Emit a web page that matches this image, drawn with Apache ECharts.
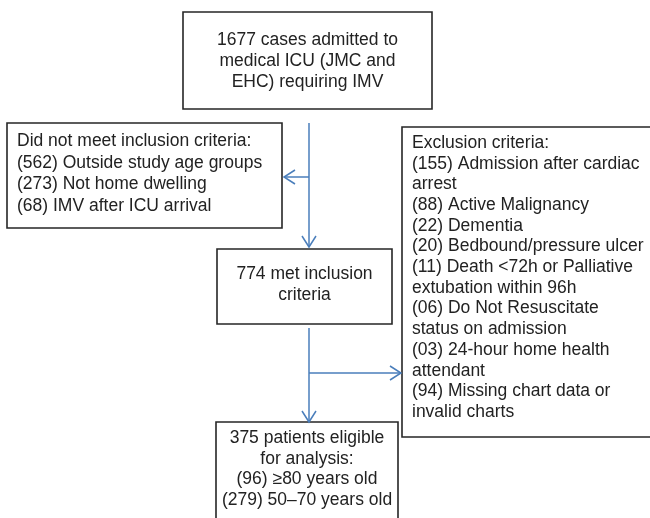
<!DOCTYPE html>
<html><head><meta charset="utf-8">
<script src="https://cdn.jsdelivr.net/npm/echarts@6/dist/echarts.min.js"></script>
<style>html,body{margin:0;padding:0;background:#fff}#c{width:650px;height:518px}</style>
</head><body><div id="c"></div><script>
// ---- data ----
const admittedLines = ["1677 cases admitted to", "medical ICU (JMC and", "EHC) requiring IMV"];
const inclusionTitle = "Did not meet inclusion criteria:";
const inclusionFailCounts = ["562", "273", "68"];
const inclusionFailReasons = ["Outside study age groups", "Not home dwelling", "IMV after ICU arrival"];
const metInclusionLines = ["774 met inclusion", "criteria"];
const exclusionTitle = "Exclusion criteria:";
const exclusionCounts = ["155", "88", "22", "20", "11", "06", "03", "94"];
const exclusionReasons = [
  ["Admission after cardiac", "arrest"],
  ["Active Malignancy"],
  ["Dementia"],
  ["Bedbound/pressure ulcer"],
  ["Death <72h or Palliative", "extubation within 96h"],
  ["Do Not Resuscitate", "status on admission"],
  ["24-hour home health", "attendant"],
  ["Missing chart data or", "invalid charts"]
];
const eligibleLines = ["375 patients eligible", "for analysis:"];
const ageGroupCounts = ["96", "279"];
const ageGroupLabels = ["\u226580 years old", "50\u201370 years old"];

// ---- layout / style ----
const FONT = '17.5px "Liberation Sans", Arial, sans-serif';
const TXT = '#222222';
const BOX = '#262626';
const ARROW = '#4a7ebb';
const LAYOUT = {
  box1: {x: 183, y: 12, w: 249, h: 97, lines: [40, 61, 82]},
  boxL: {x: 7, y: 123, w: 275, h: 105, tx: 17, y0: 141, dy: 21.7},
  boxM: {x: 217, y: 249, w: 175, h: 75, lines: [274, 295]},
  boxR: {x: 402, y: 127, w: 260, h: 310, tx: 412, y0: 143, dy: 20.7},
  boxB: {x: 216, y: 422, w: 182, h: 120, y0: 438, dy: 20.8},
  cx: 309, arrowL_y: 177, arrowR_y: 373
};

const g = [];
function rect(b) {
  g.push({type: 'rect', shape: {x: b.x, y: b.y, width: b.w, height: b.h},
    style: {fill: '#fff', stroke: BOX, lineWidth: 1.6}});
}
function txt(s, x, y, align) {
  g.push({type: 'text', x: x, y: y, style: {text: s, font: FONT, fill: TXT,
    textAlign: align || 'left', textVerticalAlign: 'middle'}});
}
function line(x1, y1, x2, y2) {
  g.push({type: 'line', shape: {x1, y1, x2, y2}, style: {stroke: ARROW, lineWidth: 1.5}});
}
function head(x, y, dir) {
  const L = 11, W = 7;
  let pts;
  if (dir === 'down') pts = [[x - W, y - L], [x, y], [x + W, y - L]];
  if (dir === 'left') pts = [[x + L, y - W], [x, y], [x + L, y + W]];
  if (dir === 'right') pts = [[x - L, y - W], [x, y], [x - L, y + W]];
  g.push({type: 'polyline', shape: {points: pts}, style: {stroke: ARROW, lineWidth: 1.5, fill: null}});
}

// boxes
const b1 = LAYOUT.box1, bl = LAYOUT.boxL, bm = LAYOUT.boxM, br = LAYOUT.boxR, bb = LAYOUT.boxB;
[b1, bl, bm, br, bb].forEach(rect);

// connectors
const cx = LAYOUT.cx;
line(cx, b1.y + b1.h + 14, cx, bm.y - 2); head(cx, bm.y - 2, 'down');
line(cx, LAYOUT.arrowL_y, bl.x + bl.w + 2, LAYOUT.arrowL_y); head(bl.x + bl.w + 2, LAYOUT.arrowL_y, 'left');
line(cx, bm.y + bm.h + 4, cx, bb.y); head(cx, bb.y, 'down');
line(cx, LAYOUT.arrowR_y, br.x - 1, LAYOUT.arrowR_y); head(br.x - 1, LAYOUT.arrowR_y, 'right');

// texts
admittedLines.forEach((s, i) => txt(s, b1.x + b1.w / 2, b1.lines[i], 'center'));
const leftLines = [inclusionTitle].concat(inclusionFailCounts.map((c, i) => '(' + c + ') ' + inclusionFailReasons[i]));
leftLines.forEach((s, i) => txt(s, bl.tx, bl.y0 + i * bl.dy));
metInclusionLines.forEach((s, i) => txt(s, bm.x + bm.w / 2, bm.lines[i], 'center'));
const rightLines = [exclusionTitle];
exclusionCounts.forEach((c, i) => exclusionReasons[i].forEach((r, j) => rightLines.push(j === 0 ? '(' + c + ') ' + r : r)));
rightLines.forEach((s, i) => txt(s, br.tx, br.y0 + i * br.dy));
const bottomLines = eligibleLines.concat(ageGroupCounts.map((c, i) => '(' + c + ') ' + ageGroupLabels[i]));
bottomLines.forEach((s, i) => txt(s, bb.x + bb.w / 2, bb.y0 + i * bb.dy, 'center'));

const chart = echarts.init(document.getElementById('c'), null, {renderer: 'canvas'});
chart.setOption({backgroundColor: '#fff', animation: false, graphic: {elements: g}});
</script></body></html>
